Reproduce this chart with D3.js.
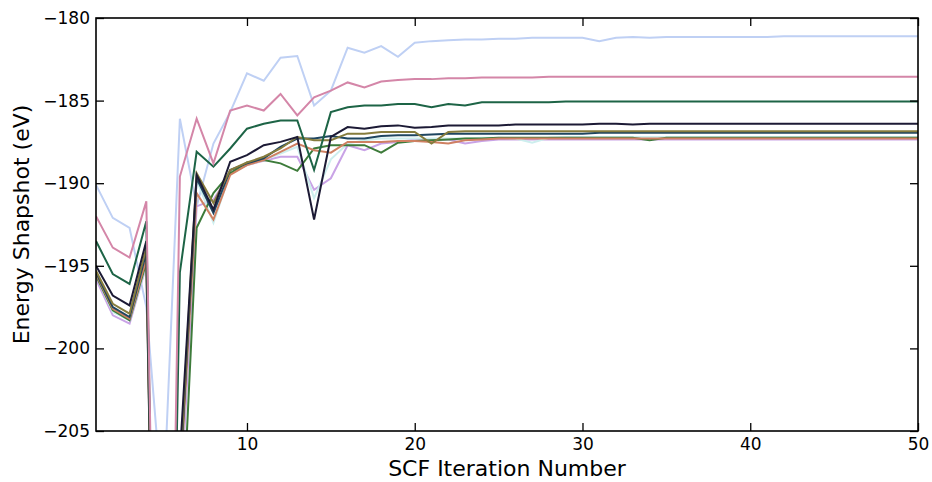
<!DOCTYPE html>
<html><head><meta charset="utf-8">
<script src="https://cdn.jsdelivr.net/npm/d3@7"></script>
<style>
body{margin:0;background:#fff}
text{font-family:"DejaVu Sans",sans-serif}
</style>
</head><body>
<svg id="chart" width="932" height="482"></svg>
<script>
const iterations = d3.range(1, 51);
const xTicks = [10, 20, 30, 40, 50];
const yTicks = [-205, -200, -195, -190, -185, -180];

const lightBlue = [-190.1,-192.1,-192.7,-197.5,-210.0,-186.1,-191.4,-187.6,-185.7,-183.35,
  -183.8,-182.4,-182.3,-185.3,-184.4,-181.8,-182.1,-181.7,-182.35,-181.5,
  -181.4,-181.35,-181.3,-181.3,-181.25,-181.25,-181.2,-181.2,-181.2,-181.2,
  -181.4,-181.2,-181.15,-181.2,-181.15,-181.15,-181.15,-181.15,-181.15,-181.15,
  -181.15,-181.1,-181.1,-181.1,-181.1,-181.1,-181.1,-181.1,-181.1,-181.1];
const pink = [-192.0,-193.9,-194.5,-191.1,-250,-189.6,-186.1,-188.8,-185.6,-185.3,
  -185.6,-184.6,-185.9,-184.8,-184.4,-183.9,-184.2,-183.85,-183.75,-183.7,
  -183.7,-183.65,-183.65,-183.6,-183.6,-183.6,-183.6,-183.55,-183.55,-183.55,
  -183.55,-183.55,-183.55,-183.55,-183.55,-183.55,-183.55,-183.55,-183.55,-183.55,
  -183.55,-183.55,-183.55,-183.55,-183.55,-183.55,-183.55,-183.55,-183.55,-183.55];
const darkGreen = [-193.5,-195.5,-196.1,-192.3,-250,-195.4,-188.1,-189.0,-187.9,-186.7,
  -186.4,-186.2,-186.2,-189.2,-185.7,-185.4,-185.3,-185.3,-185.2,-185.2,
  -185.4,-185.2,-185.3,-185.1,-185.1,-185.1,-185.1,-185.1,-185.05,-185.05,
  -185.05,-185.05,-185.05,-185.05,-185.05,-185.05,-185.05,-185.05,-185.05,-185.05,
  -185.05,-185.05,-185.05,-185.05,-185.05,-185.05,-185.05,-185.05,-185.05,-185.05];
const navy = [-195.0,-196.8,-197.4,-193.5,-250,-206.5,-189.5,-191.6,-188.7,-188.3,
  -187.7,-187.5,-187.2,-192.2,-187.2,-186.6,-186.7,-186.55,-186.5,-186.65,
  -186.6,-186.5,-186.5,-186.5,-186.5,-186.45,-186.45,-186.45,-186.45,-186.45,
  -186.4,-186.4,-186.45,-186.4,-186.4,-186.4,-186.4,-186.4,-186.4,-186.4,
  -186.4,-186.4,-186.4,-186.4,-186.4,-186.4,-186.4,-186.4,-186.4,-186.4];
const olive = [-195.3,-197.3,-197.9,-193.9,-250,-207.5,-189.4,-191.2,-189.2,-188.75,
  -188.4,-187.9,-187.2,-187.4,-187.4,-187.0,-187.0,-186.9,-186.9,-186.9,
  -187.6,-186.9,-186.85,-186.85,-186.85,-186.85,-186.85,-186.85,-186.85,-186.85,
  -186.85,-186.85,-186.85,-186.85,-186.85,-186.85,-186.85,-186.85,-186.85,-186.85,
  -186.85,-186.85,-186.85,-186.85,-186.85,-186.85,-186.85,-186.85,-186.85,-186.85];
const teal = [-195.4,-197.5,-198.1,-194.2,-250,-208.0,-189.7,-191.8,-189.2,-188.8,
  -188.5,-187.8,-187.3,-187.3,-187.15,-187.3,-187.3,-187.15,-187.1,-187.1,
  -187.05,-187.0,-187.0,-187.0,-187.0,-187.0,-187.0,-187.0,-187.0,-187.0,
  -186.95,-186.95,-186.95,-186.95,-186.95,-186.95,-186.95,-186.95,-186.95,-186.95,
  -186.95,-186.95,-186.95,-186.95,-186.95,-186.95,-186.95,-186.95,-186.95,-186.95];
const orange = [-195.5,-197.6,-198.2,-194.6,-250,-208.5,-190.6,-192.2,-189.5,-188.9,
  -188.6,-188.1,-187.6,-188.0,-188.15,-187.5,-187.5,-187.5,-187.45,-187.45,
  -187.5,-187.6,-187.4,-187.35,-187.3,-187.3,-187.3,-187.3,-187.3,-187.3,
  -187.3,-187.3,-187.3,-187.3,-187.3,-187.3,-187.3,-187.3,-187.3,-187.3,
  -187.3,-187.3,-187.3,-187.3,-187.3,-187.3,-187.3,-187.3,-187.3,-187.3];
const green = [-195.6,-197.7,-198.3,-194.8,-250,-214.0,-192.7,-190.6,-189.4,-188.75,
  -188.6,-188.8,-189.25,-187.9,-187.7,-187.7,-187.7,-188.15,-187.55,-187.45,
  -187.4,-187.35,-187.3,-187.3,-187.25,-187.25,-187.25,-187.25,-187.25,-187.25,
  -187.25,-187.25,-187.25,-187.4,-187.25,-187.25,-187.25,-187.25,-187.25,-187.25,
  -187.25,-187.25,-187.25,-187.25,-187.25,-187.25,-187.25,-187.25,-187.25,-187.25];
const cyan = [-195.6,-197.8,-198.3,-194.9,-250,-209.0,-189.8,-192.4,-189.4,-188.9,
  -188.6,-188.2,-187.8,-190.9,-188.55,-187.6,-187.4,-187.3,-187.3,-187.3,
  -187.3,-187.3,-187.3,-187.25,-187.25,-187.3,-187.55,-187.25,-187.2,-187.2,
  -187.2,-187.2,-187.2,-187.2,-187.2,-187.2,-187.2,-187.2,-187.2,-187.2,
  -187.2,-187.2,-187.2,-187.2,-187.2,-187.2,-187.2,-187.2,-187.2,-187.2];
const lavender = [-195.8,-198.0,-198.5,-195.0,-250,-210.0,-191.4,-191.0,-189.4,-188.9,
  -188.65,-188.4,-188.4,-190.4,-189.7,-187.7,-188.0,-187.6,-187.5,-187.35,
  -187.35,-187.35,-187.6,-187.45,-187.35,-187.35,-187.35,-187.35,-187.35,-187.35,
  -187.35,-187.35,-187.35,-187.35,-187.35,-187.35,-187.35,-187.35,-187.35,-187.35,
  -187.35,-187.35,-187.35,-187.35,-187.35,-187.35,-187.35,-187.35,-187.35,-187.35];

const seriesList = [
  {values: lightBlue, color: "#bfd0f4"},
  {values: lavender, color: "#c9a3e6"},
  {values: cyan, color: "#cdeeee"},
  {values: green, color: "#3d7b3a"},
  {values: orange, color: "#cf8062"},
  {values: teal, color: "#1e4560"},
  {values: olive, color: "#867c3d"},
  {values: navy, color: "#1c1a35"},
  {values: darkGreen, color: "#1d6446"},
  {values: pink, color: "#d486a8"}
];

const svg = d3.select("#chart");
const m = {left: 96, right: 14, top: 18, bottom: 51};
const W = 932, H = 482;
const iw = W - m.left - m.right, ih = H - m.top - m.bottom;

const x = d3.scaleLinear().domain([1, 50]).range([0, iw]);
const y = d3.scaleLinear().domain([-205, -180]).range([ih, 0]);

const g = svg.append("g").attr("transform", `translate(${m.left},${m.top})`);

g.append("clipPath").attr("id", "clip").append("rect").attr("width", iw).attr("height", ih);

const line = d3.line().x((d, i) => x(iterations[i])).y(d => y(d));
const lines = g.append("g").attr("clip-path", "url(#clip)");
seriesList.forEach(s => {
  lines.append("path").datum(s.values).attr("d", line)
    .attr("fill", "none").attr("stroke", s.color).attr("stroke-width", 2)
    .attr("stroke-linejoin", "miter");
});

const fmt = d3.format("d");
function styleAxis(sel, hideLabels) {
  sel.select(".domain").remove();
  sel.selectAll(".tick line").attr("stroke", "#000").attr("stroke-width", 1.3);
  sel.selectAll(".tick text").attr("fill", "#000").style("font-size", "17px")
    .style("font-family", "DejaVu Sans");
  if (hideLabels) sel.selectAll(".tick text").remove();
}
g.append("g").attr("transform", `translate(0,${ih})`)
  .call(d3.axisBottom(x).tickValues(xTicks).tickFormat(fmt).tickSizeInner(-8).tickSizeOuter(0).tickPadding(7))
  .call(s => styleAxis(s, false));
g.append("g")
  .call(d3.axisTop(x).tickValues(xTicks).tickSizeInner(-8).tickSizeOuter(0))
  .call(s => styleAxis(s, true));
g.append("g")
  .call(d3.axisLeft(y).tickValues(yTicks).tickFormat(fmt).tickSizeInner(-8).tickSizeOuter(0).tickPadding(6))
  .call(s => styleAxis(s, false));
g.append("g").attr("transform", `translate(${iw},0)`)
  .call(d3.axisRight(y).tickValues(yTicks).tickSizeInner(-8).tickSizeOuter(0))
  .call(s => styleAxis(s, true));

g.append("rect").attr("width", iw).attr("height", ih)
  .attr("fill", "none").attr("stroke", "#000").attr("stroke-width", 1.6);

svg.append("text").attr("x", m.left + iw / 2).attr("y", 476)
  .attr("text-anchor", "middle").style("font-size", "22px").text("SCF Iteration Number");
svg.append("text").attr("transform", `translate(29,${m.top + ih / 2}) rotate(-90)`)
  .attr("text-anchor", "middle").style("font-size", "22px").text("Energy Shapshot (eV)");
</script>
</body></html>
